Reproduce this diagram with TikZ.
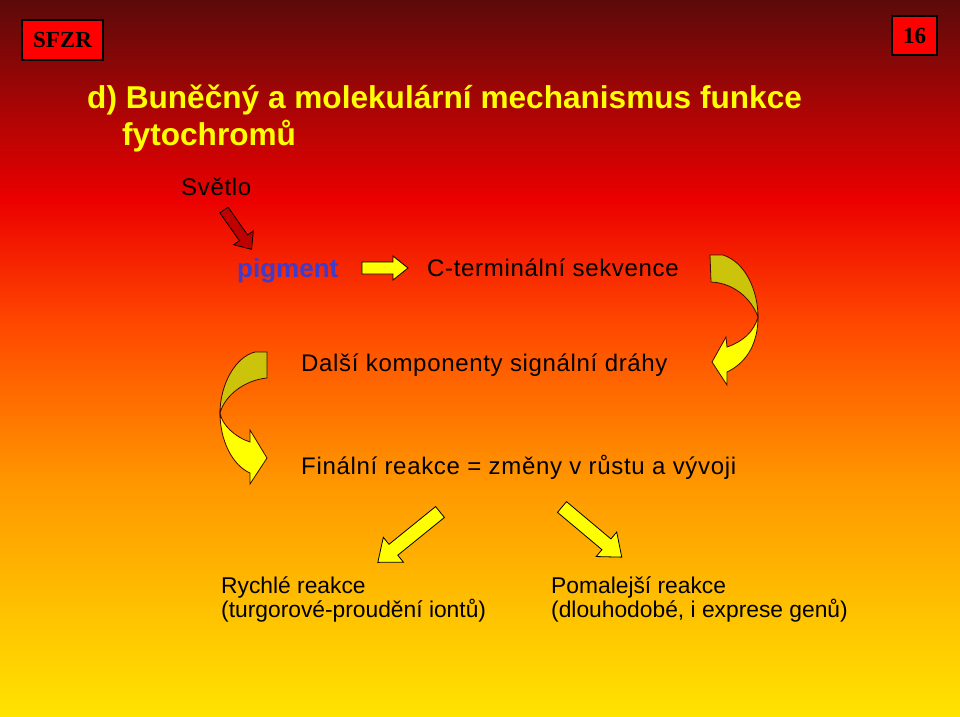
\documentclass[tikz,border=0pt]{standalone}
\usepackage{fontspec}
\setmainfont{Liberation Sans}
\newfontfamily\timesf{Liberation Serif}
\newfontfamily\spacedf[LetterSpace=2.8]{Liberation Sans}
\begin{document}
\begin{tikzpicture}[x=1pt,y=-1pt,
  txt/.style={anchor=base west,inner sep=0pt,font=\spacedf\fontsize{24}{28}\selectfont,text=black},
  btxt/.style={anchor=base west,inner sep=0pt,font=\fontsize{22.8}{27}\selectfont,text=black,align=left},
  title/.style={anchor=base west,inner sep=0pt,font=\fontsize{31.6}{38}\selectfont\bfseries,text=titleyellow},
  tagbox/.style={draw=black,line width=2.5pt,fill=red,inner sep=0pt,font=\timesf\bfseries\fontsize{23}{27}\selectfont},
  blockar/.style={draw=black,line width=0.8pt,line join=miter},
  curvar/.style={draw=outl,line width=0.8pt}
]
\definecolor{titleyellow}{RGB}{255,255,0}
\definecolor{bg0}{RGB}{92,10,10}
\definecolor{bg1}{RGB}{236,0,0}
\definecolor{bg2}{RGB}{255,70,0}
\definecolor{bg3}{RGB}{255,150,0}
\definecolor{bg4}{RGB}{255,228,0}
\definecolor{darkred}{RGB}{192,0,0}
\definecolor{olive}{RGB}{204,196,10}
\definecolor{ayellow}{RGB}{255,255,0}
\definecolor{outl}{RGB}{60,10,0}
\definecolor{pigblue}{RGB}{60,60,205}
\useasboundingbox (0,0) rectangle (960,716);
% background gradient
\shade[top color=bg0,bottom color=bg1] (0,0) rectangle (960,201);
\shade[top color=bg1,bottom color=bg2] (0,200) rectangle (960,321);
\shade[top color=bg2,bottom color=bg3] (0,320) rectangle (960,481);
\shade[top color=bg3,bottom color=bg4] (0,480) rectangle (960,716);

% tag boxes
\node[tagbox,minimum width=81pt,minimum height=40pt] (sfzr) at (62.5,40) {SFZR};
\node[tagbox,minimum width=45pt,minimum height=39pt] (num) at (914.5,35.5) {16};

% title
\node[title] (t1) at (87,108) {d) Buněčný a molekulární mechanismus funkce};
\node[title] (t2) at (122,145) {fytochromů};

% texts
\node[txt] (svetlo) at (181,195) {Světlo};
\node[anchor=base west,inner sep=0pt,font=\fontsize{26}{30}\selectfont\bfseries,text=pigblue] (pigment) at (237,277) {pigment};
\node[txt] (cterm) at (427,276) {C-terminální sekvence};
\node[txt] (dalsi) at (301,371) {Další komponenty signální dráhy};
\node[txt] (final) at (301,474) {Finální reakce = změny v růstu a vývoji};
\node[btxt] (rychle) at (221,593) {Rychlé reakce};
\node[btxt] (turg) at (221,617) {(turgorové-proudění iontů)};
\node[btxt] (pomal) at (551,593) {Pomalejší reakce};
\node[btxt] (dlouh) at (551,617) {(dlouhodobé, i exprese genů)};

% red arrow Svetlo -> pigment
\begin{scope}[shift={(224,210)},rotate=-55]
\filldraw[blockar,fill=darkred] (0,-5) -- (34,-5) -- (34,-12) -- (48,0) -- (34,12) -- (34,5) -- (0,5) -- cycle;
\end{scope}
% yellow arrow pigment -> C-term
\begin{scope}[shift={(362,268)}]
\filldraw[blockar,fill=ayellow] (0,-6) -- (31,-6) -- (31,-12) -- (46,0) -- (31,12) -- (31,6) -- (0,6) -- cycle;
\end{scope}
% bottom-left arrow
\begin{scope}[shift={(440,512)},rotate=-141]
\filldraw[blockar,fill=ayellow] (0,-7) -- (60,-7) -- (60,-16) -- (80,0) -- (60,16) -- (60,7) -- (0,7) -- cycle;
\end{scope}
% bottom-right arrow
\begin{scope}[shift={(562,507)},rotate=-40]
\filldraw[blockar,fill=ayellow] (0,-7) -- (58,-7) -- (58,-16) -- (78,0) -- (58,16) -- (58,7) -- (0,7) -- cycle;
\end{scope}

% right curved arrow
\filldraw[curvar,fill=olive] (710,255) -- (723,255) .. controls (745,262) and (758,290) .. (758,317)
  .. controls (752,300) and (735,283) .. (711,282) -- cycle;
\filldraw[curvar,fill=ayellow] (758,317) .. controls (758,342) and (748,362) .. (727,372) -- (727,385) -- (712,362) -- (726,337) -- (727,347)
  .. controls (742,342) and (754,332) .. (758,317) -- cycle;

% left curved arrow
\filldraw[curvar,fill=olive] (255,352) -- (267,352) -- (267,378) .. controls (245,380) and (225,395) .. (220,413)
  .. controls (220,385) and (235,357) .. (255,352) -- cycle;
\filldraw[curvar,fill=ayellow] (220,413) .. controls (220,440) and (232,465) .. (250,473) -- (250,484) -- (267,458) -- (250,430) -- (250,442)
  .. controls (235,437) and (222,425) .. (220,413) -- cycle;
\end{tikzpicture}
\end{document}
